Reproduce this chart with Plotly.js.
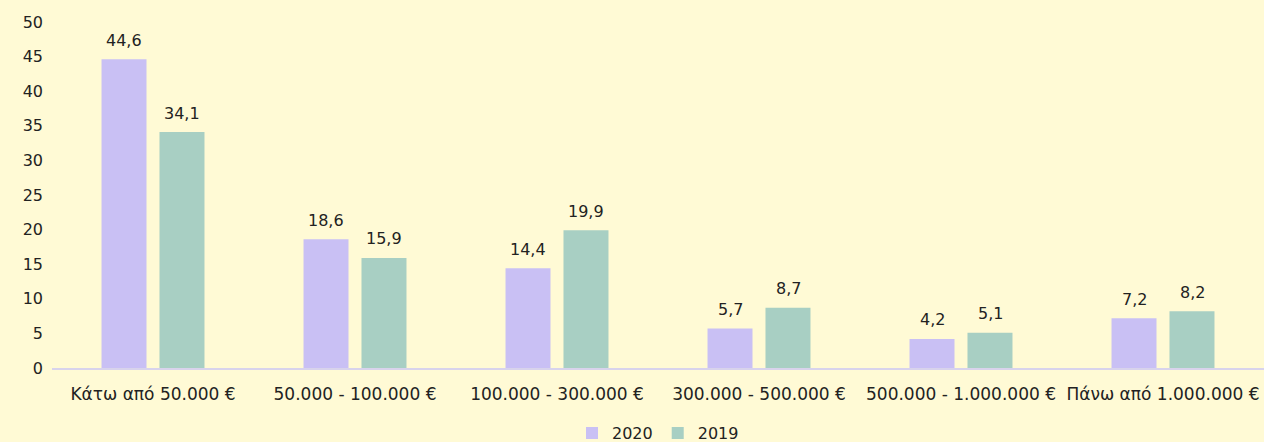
<!DOCTYPE html>
<html>
<head>
<meta charset="utf-8">
<script src="https://cdn.plot.ly/plotly-3.0.1.min.js"></script>
<style>html,body{margin:0;padding:0;background:#FFFAD5;}#chart{width:1264px;height:442px;}</style>
</head>
<body>
<div id="chart"></div>
<script>
const categories = ["Κάτω από 50.000\u00A0€", "50.000 - 100.000\u00A0€", "100.000 - 300.000\u00A0€", "300.000 - 500.000\u00A0€", "500.000 - 1.000.000\u00A0€", "Πάνω από 1.000.000\u00A0€"];
const values2020 = [44.6, 18.6, 14.4, 5.7, 4.2, 7.2];
const values2019 = [34.1, 15.9, 19.9, 8.7, 5.1, 8.2];
const yTicks = [0, 5, 10, 15, 20, 25, 30, 35, 40, 45, 50];

const fmt = v => v.toFixed(1).replace('.', ',');
const font = {family: '"DejaVu Sans", sans-serif', size: 16, color: '#222222'};
const xFont = {family: '"DejaVu Sans", sans-serif', size: 17, color: '#222222'};

const traces = [
  {type: 'bar', name: '2020', x: categories, y: values2020, marker: {color: '#C9C0F4'}, hoverinfo: 'none'},
  {type: 'bar', name: '2019', x: categories, y: values2019, marker: {color: '#A8CFC3'}, hoverinfo: 'none'}
];

// value labels placed via axis scales, shifted to sit over each grouped bar
const annotations = [];
[[values2020, -29], [values2019, 29]].forEach(([vals, dx]) => {
  vals.forEach((v, i) => {
    annotations.push({x: categories[i], y: v, xref: 'x', yref: 'y', text: fmt(v), showarrow: false,
      xshift: dx, yshift: 19, font: font});
  });
});

const layout = {
  width: 1264, height: 442,
  paper_bgcolor: '#FFFAD5', plot_bgcolor: '#FFFAD5',
  margin: {l: 52, r: 0, t: 22, b: 74},
  font: font,
  barmode: 'group', bargap: 0.426, bargroupgap: 0.224,
  xaxis: {showline: true, linecolor: '#D8D3EC', linewidth: 2, ticks: 'outside', ticklen: 10, tickcolor: 'rgba(0,0,0,0)', showgrid: false, tickfont: xFont, automargin: false, tickangle: 0},
  yaxis: {range: [0, 50], tickvals: yTicks, showgrid: false, zeroline: false, showline: false, ticks: '', tickfont: font, ticklabelstandoff: 8, automargin: false},
  annotations: annotations,
  showlegend: true,
  legend: {orientation: 'h', x: 0.5, xanchor: 'center', xref: 'paper', yref: 'container', y: 0.02, yanchor: 'middle', font: font, itemwidth: 30, traceorder: 'normal', tracegroupgap: 0},
};

Plotly.newPlot('chart', traces, layout, {displayModeBar: false, staticPlot: true});
</script>
</body>
</html>
